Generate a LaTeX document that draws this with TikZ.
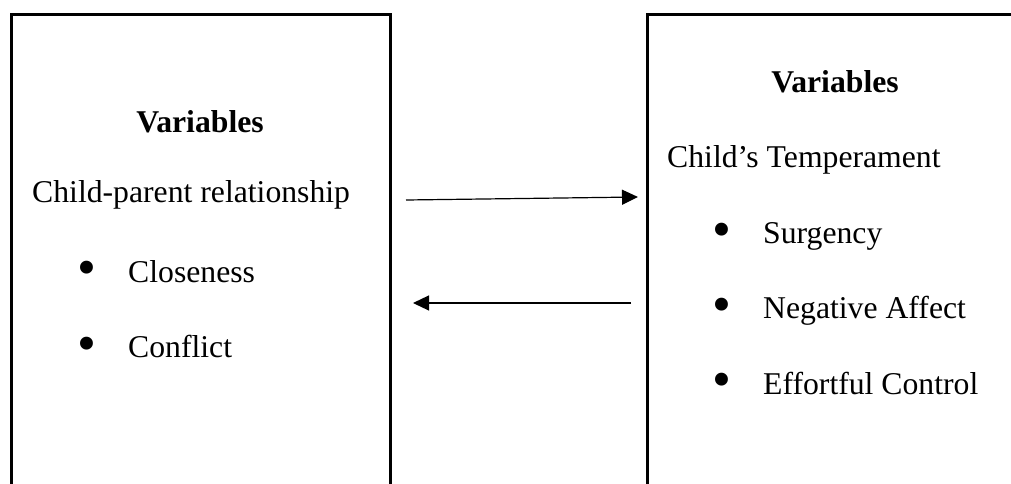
\documentclass[tikz,border=0pt]{standalone}
\usepackage{fontspec}
\setmainfont{Liberation Serif}
\usetikzlibrary{arrows.meta}
\tikzset{
  varbox/.style={draw=black, line width=2.6pt, rectangle, inner sep=0pt},
  txt/.style={anchor=base west, inner sep=0pt, font=\fontsize{31.7}{38}\selectfont},
  hd/.style={anchor=base, inner sep=0pt, font=\fontsize{31.7}{38}\selectfont\bfseries},
  bul/.style={anchor=center, inner sep=0pt, font=\fontsize{54}{60}\selectfont},
  conn/.style={line width=1.2pt, -{Triangle[length=16pt,width=15pt]}}
}
\begin{document}
\begin{tikzpicture}[x=1pt,y=-1pt]
\useasboundingbox (0,0) rectangle (1011,484);
\clip (0,0) rectangle (1011,484);
\fill[white] (0,0) rectangle (1011,484);
% boxes
\node[varbox, minimum width=379pt, minimum height=560pt, anchor=north west] (left) at (10,13) {};
\node[varbox, minimum width=378pt, minimum height=560pt, anchor=north west] (right) at (646,13) {};
% left texts
\node[hd] (lh) at (200,132) {Variables};
\node[txt] (lt) at (32,202) {Child-parent relationship};
\node[bul] (lb1) at (87,273) {•};
\node[txt] (l1) at (128,282) {Closeness};
\node[bul] (lb2) at (87,349) {•};
\node[txt] (l2) at (128,357) {Conflict};
% right texts
\node[hd] (rh) at (835,93) {Variables};
\node[txt] (rt) at (667,167) {Child’s Temperament};
\node[bul] (rb1) at (722,235) {•};
\node[txt] (r1) at (763,243) {Surgency};
\node[bul] (rb2) at (722,310) {•};
\node[txt] (r2) at (763,318) {Negative Affect};
\node[bul] (rb3) at (722,385) {•};
\node[txt] (r3) at (763,394) {Effortful Control};
% arrows
\coordinate (a1s) at (406,200);
\coordinate (a1e) at (638,197);
\coordinate (a2s) at (631,303);
\coordinate (a2e) at (413,303);
\draw[conn] (a1s) -- (a1e);
\draw[conn] (a2s) -- (a2e);
\end{tikzpicture}
\end{document}
